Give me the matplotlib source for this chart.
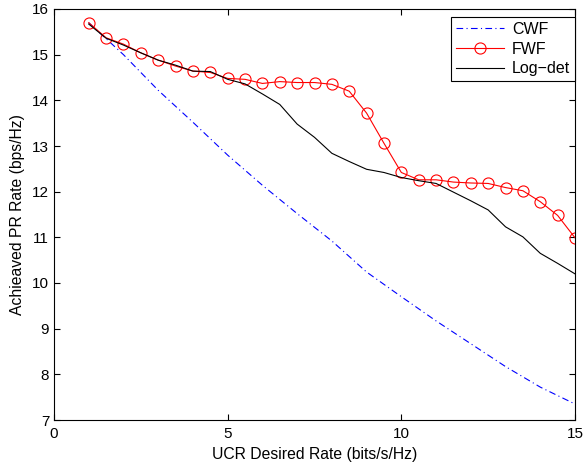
import matplotlib
matplotlib.use("Agg")
import matplotlib.pyplot as plt
import numpy as np

plt.rcParams['font.family'] = ['Liberation Sans', 'DejaVu Sans']

# CWF (read at integer rates)
cwf_x = [1, 2, 3, 4, 5, 6, 7, 8, 9, 10, 11, 12, 13, 14, 15]
cwf_y = [15.70, 15.00, 14.22, 13.52, 12.80, 12.14, 11.52, 10.92, 10.24,
         9.70, 9.17, 8.67, 8.17, 7.72, 7.35]

# FWF and Log-det share the 0.5 step grid
rate = [1, 1.5, 2, 2.5, 3, 3.5, 4, 4.5, 5, 5.5, 6, 6.5, 7, 7.5, 8, 8.5,
        9, 9.5, 10, 10.5, 11, 11.5, 12, 12.5, 13, 13.5, 14, 14.5, 15]
fwf_y = [15.70, 15.37, 15.23, 15.04, 14.88, 14.75, 14.64, 14.61, 14.48, 14.46,
         14.37, 14.41, 14.39, 14.39, 14.35, 14.20, 13.72, 13.06, 12.42, 12.26,
         12.26, 12.21, 12.19, 12.18, 12.09, 12.02, 11.78, 11.48, 10.99]
logdet_y = [15.67, 15.36, 15.21, 15.04, 14.88, 14.77, 14.64, 14.63, 14.46, 14.36,
            14.14, 13.91, 13.48, 13.19, 12.84, 12.66, 12.49, 12.42, 12.31, 12.24,
            12.18, 11.99, 11.80, 11.60, 11.23, 11.01, 10.65, 10.43, 10.20]

fig = plt.figure(figsize=(5.83, 4.66), dpi=100)
ax = fig.add_axes([54 / 583, 46 / 466, 521 / 583, 411 / 466])

ax.plot(cwf_x, cwf_y, color='#0000ff', lw=0.8, dashes=(6, 3, 1, 3), label='CWF')
ax.plot(rate, fwf_y, color='#ff0000', lw=0.8, marker='o', markersize=8,
        markerfacecolor='none', markeredgewidth=0.8, label='FWF')
ax.plot(rate, logdet_y, color='black', lw=0.8, label='Log\u2212det')

ax.set_xlim(0, 15)
ax.set_ylim(7, 16)
ax.set_xticks([0, 5, 10, 15])
ax.set_yticks(range(7, 17))
ax.tick_params(direction='in', top=True, right=True, length=4, width=0.8,
               labelsize=11)
ax.tick_params(axis='x', pad=5)
for s in ax.spines.values():
    s.set_linewidth(0.8)

ax.set_xlabel('UCR Desired Rate (bits/s/Hz)', fontsize=11.3, labelpad=4)
ax.set_ylabel('Achieaved PR Rate (bps/Hz)', fontsize=11.3, labelpad=5)

leg = ax.legend(loc='upper right', bbox_to_anchor=(1, 1 - 8 / 411),
                borderaxespad=0, fancybox=False, framealpha=1,
                edgecolor='black', fontsize=11.5, handlelength=3.0,
                labelspacing=0.3, borderpad=0.3, handletextpad=0.5)
leg.get_frame().set_linewidth(0.8)

fig.savefig('out.png', dpi=100)
